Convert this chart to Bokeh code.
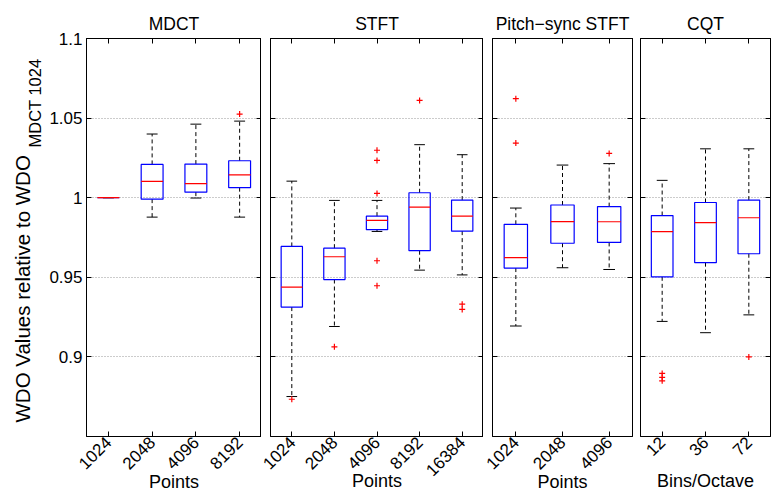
import math
from bokeh.plotting import figure
from bokeh.layouts import row
from bokeh.models import Range1d, FixedTicker, LinearAxis, Label
from bokeh.embed import file_html
from bokeh.resources import INLINE

FONT = "Liberation Sans"

# ---------------- data ----------------
Y_TICKS = [0.9, 0.95, 1.0, 1.05, 1.1]
Y_TICK_LABELS = ["0.9", "0.95", "1", "1.05", "1.1"]

mdct_title = "MDCT"
mdct_xlabel = "Points"
mdct_labels = ["1024", "2048", "4096", "8192"]
mdct_lower = [1.0, 0.9878, 0.9998, 0.9878]
mdct_q1 = [1.0, 0.9991, 1.0035, 1.0063]
mdct_med = [1.0, 1.0102, 1.0088, 1.0144]
mdct_q3 = [1.0, 1.0209, 1.0211, 1.0232]
mdct_upper = [1.0, 1.0400, 1.0462, 1.0481]
mdct_outliers = [[], [], [], [1.0525]]

stft_title = "STFT"
stft_xlabel = "Points"
stft_labels = ["1024", "2048", "4096", "8192", "16384"]
stft_lower = [0.8751, 0.9191, 0.9788, 0.9545, 0.9515]
stft_q1 = [0.9313, 0.9486, 0.9799, 0.9667, 0.9790]
stft_med = [0.9438, 0.9629, 0.9857, 0.9941, 0.9884]
stft_q3 = [0.9694, 0.9683, 0.9884, 1.0031, 0.9985]
stft_upper = [1.0104, 0.9983, 0.9983, 1.0333, 1.0270]
stft_outliers = [[0.8734], [0.9063], [1.0298, 1.0234, 1.0027, 0.9604, 0.9447], [1.0611], [0.9331, 0.9298]]

psync_title = "Pitch\u2212sync STFT"
psync_xlabel = "Points"
psync_labels = ["1024", "2048", "4096"]
psync_lower = [0.9194, 0.9560, 0.9549]
psync_q1 = [0.9558, 0.9714, 0.9719]
psync_med = [0.9623, 0.9850, 0.9849]
psync_q3 = [0.9833, 0.9954, 0.9944]
psync_upper = [0.9935, 1.0205, 1.0214]
psync_outliers = [[1.0622, 1.0343], [], [1.0278]]

cqt_title = "CQT"
cqt_xlabel = "Bins/Octave"
cqt_labels = ["12", "36", "72"]
cqt_lower = [0.9223, 0.9152, 0.9264]
cqt_q1 = [0.9503, 0.9592, 0.9648]
cqt_med = [0.9787, 0.9843, 0.9874]
cqt_q3 = [0.9888, 0.9970, 0.9985]
cqt_upper = [1.0109, 1.0307, 1.0307]
cqt_outliers = [[0.8896, 0.8872, 0.8850], [], [0.9000]]

Y_LABEL_MAIN = "WDO Values relative to WDO"
Y_LABEL_SUB = "MDCT 1024"

# ---------------- layout constants ----------------
Y_MIN, Y_MAX = 0.85, 1.1
FRAME_H = 398
TOP = 38
BOTTOM = 59
TICK_PX = 17
TICK_FS = "17px"
XLABEL_PX = 18
BOX_W = 0.5
CAP_W = 0.25
XLABEL_CENTER_PX = 48   # distance from frame bottom to the x-label centre


def style_axis(ax, ticks, overrides=None, show_labels=False):
    ax.ticker = FixedTicker(ticks=ticks)
    ax.major_tick_in = 5
    ax.major_tick_out = 0
    ax.minor_tick_line_color = None
    ax.axis_line_color = "black"
    ax.axis_line_width = 1
    ax.major_tick_line_color = "black"
    ax.major_label_text_font = FONT
    ax.major_label_text_color = "black"
    if show_labels:
        ax.major_label_text_font_size = TICK_FS
        ax.major_label_overrides = overrides
        ax.major_label_standoff = 4
    else:
        ax.major_label_text_font_size = "0px"
        ax.major_label_standoff = 0
        ax.major_label_overrides = {t: "" for t in ticks}
    ax.axis_label = None


def make_panel(title, xlabel, labels, lower, q1, med, q3, upper, outliers,
               frame_w, border_l, border_r, show_y):
    n = len(labels)
    xs = list(range(1, n + 1))
    p = figure(frame_width=frame_w, frame_height=FRAME_H,
               x_range=Range1d(0.5, n + 0.5), y_range=Range1d(Y_MIN, Y_MAX),
               min_border_left=border_l, min_border_right=border_r,
               min_border_top=TOP, min_border_bottom=BOTTOM,
               output_backend="svg", toolbar_location=None, title=title)
    p.title.align = "center"
    p.title.text_font = FONT
    p.title.text_font_size = "17.5px"
    p.title.text_font_style = "normal"
    p.title.text_color = "black"
    p.outline_line_color = "black"
    p.outline_line_width = 1
    p.background_fill_color = "white"
    p.border_fill_color = "white"

    xover = {x: lab for x, lab in zip(xs, labels)}
    xa = p.xaxis[0]
    style_axis(xa, xs, xover, True)
    xa.major_label_orientation = math.pi / 4
    xa.major_label_standoff = 3
    # axis title, pulled up so that it sits at the same height in every panel
    maxlen = max(len(s) for s in labels)
    tick_ext = 3 + (maxlen * 0.556 * TICK_PX + 1.15 * TICK_PX) * math.sqrt(0.5)
    xa.axis_label = xlabel
    xa.axis_label_text_font = FONT
    xa.axis_label_text_font_size = f"{XLABEL_PX}px"
    xa.axis_label_text_font_style = "normal"
    xa.axis_label_text_color = "black"
    xa.axis_label_standoff = int(round(XLABEL_CENTER_PX - tick_ext - 0.575 * XLABEL_PX))

    yover = {t: lab for t, lab in zip(Y_TICKS, Y_TICK_LABELS)}
    style_axis(p.yaxis[0], Y_TICKS, yover, show_y)

    top_ax = LinearAxis()
    style_axis(top_ax, xs)
    p.add_layout(top_ax, "above")
    right_ax = LinearAxis()
    style_axis(right_ax, Y_TICKS)
    p.add_layout(right_ax, "right")

    p.xgrid.visible = False
    p.ygrid.ticker = FixedTicker(ticks=Y_TICKS)
    p.ygrid.grid_line_color = "#999999"
    p.ygrid.grid_line_dash = "1 2"
    p.ygrid.grid_line_width = 1

    # whiskers
    p.segment(x0=xs, y0=q3, x1=xs, y1=upper, line_color="black", line_dash="4 3", line_width=1)
    p.segment(x0=xs, y0=q1, x1=xs, y1=lower, line_color="black", line_dash="4 3", line_width=1)
    # caps
    cl = [x - CAP_W / 2 for x in xs]
    cr = [x + CAP_W / 2 for x in xs]
    p.segment(x0=cl, y0=upper, x1=cr, y1=upper, line_color="black", line_width=1)
    p.segment(x0=cl, y0=lower, x1=cr, y1=lower, line_color="black", line_width=1)
    # boxes
    bl = [x - BOX_W / 2 for x in xs]
    br = [x + BOX_W / 2 for x in xs]
    p.quad(left=bl, right=br, bottom=q1, top=q3, fill_color=None,
           line_color="#0000ff", line_width=1.2)
    # medians
    p.segment(x0=bl, y0=med, x1=br, y1=med, line_color="#ff0000", line_width=1.2)
    # outliers
    ox, oy = [], []
    for x, vals in zip(xs, outliers):
        for v in vals:
            ox.append(x)
            oy.append(v)
    if ox:
        p.scatter(x=ox, y=oy, marker="cross", size=6, line_color="#ff0000", line_width=1.2)
    return p


# y-label helper figure
ylab = figure(frame_width=44, frame_height=FRAME_H,
              x_range=Range1d(0, 44), y_range=Range1d(0, FRAME_H),
              min_border_left=0, min_border_right=0,
              min_border_top=TOP, min_border_bottom=BOTTOM,
              output_backend="svg", toolbar_location=None)
ylab.axis.visible = False
ylab.grid.visible = False
ylab.outline_line_color = None
ylab.add_layout(Label(x=22, y=14, text=Y_LABEL_MAIN, angle=math.pi / 2,
                      text_align="left", text_baseline="alphabetic",
                      text_font=FONT, text_font_size="20.5px", text_color="black"))
ylab.add_layout(Label(x=34, y=289, text=Y_LABEL_SUB, angle=math.pi / 2,
                      text_align="left", text_baseline="alphabetic",
                      text_font=FONT, text_font_size="16.5px", text_color="black"))

p1 = make_panel(mdct_title, mdct_xlabel, mdct_labels, mdct_lower, mdct_q1, mdct_med,
                mdct_q3, mdct_upper, mdct_outliers, 175, 42, 0, True)
p2 = make_panel(stft_title, stft_xlabel, stft_labels, stft_lower, stft_q1, stft_med,
                stft_q3, stft_upper, stft_outliers, 213, 9, 0, False)
p3 = make_panel(psync_title, psync_xlabel, psync_labels, psync_lower, psync_q1, psync_med,
                psync_q3, psync_upper, psync_outliers, 140, 9, 4, False)
p4 = make_panel(cqt_title, cqt_xlabel, cqt_labels, cqt_lower, cqt_q1, cqt_med,
                cqt_q3, cqt_upper, cqt_outliers, 130, 4, 2, False)

layout = row(ylab, p1, p2, p3, p4, spacing=0)

open("out.html", "w").write(file_html(layout, INLINE))
